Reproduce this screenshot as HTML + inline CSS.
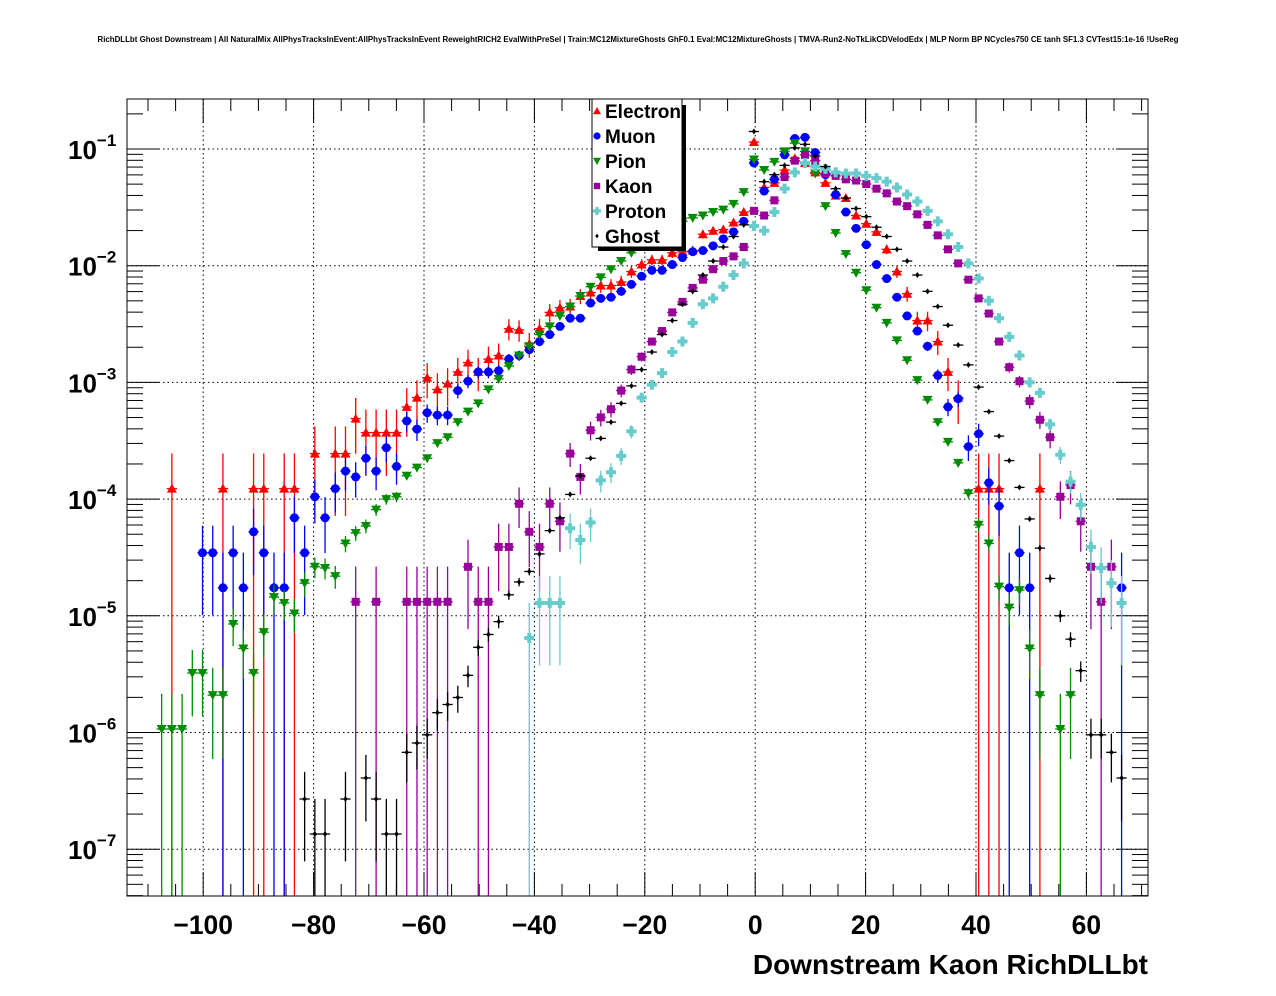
<!DOCTYPE html>
<html><head><meta charset="utf-8"><style>
body{margin:0;background:#fff}
svg{display:block;font-family:"Liberation Sans",sans-serif}
</style></head><body>
<svg id="c" width="1276" height="996" xmlns="http://www.w3.org/2000/svg">
<defs><clipPath id="pc"><rect x="127" y="99" width="1021" height="797"/></clipPath></defs>
<rect width="1276" height="996" fill="#fff"/>
<text x="638" y="42" text-anchor="middle" font-size="7.9" font-weight="bold">RichDLLbt Ghost Downstream | All NaturalMix AllPhysTracksInEvent:AllPhysTracksInEvent ReweightRICH2 EvalWithPreSel | Train:MC12MixtureGhosts GhF0.1 Eval:MC12MixtureGhosts | TMVA-Run2-NoTkLikCDVelodEdx | MLP Norm BP NCycles750 CE tanh SF1.3 CVTest15:1e-16 !UseReg</text>
<g id="grid"></g>
<g id="axes"></g>
<g id="marks" clip-path="url(#pc)"></g>
<rect x="127" y="99" width="1021" height="797" fill="none" stroke="#000" stroke-width="1"/>
<text x="1148" y="974" text-anchor="end" font-size="28" font-weight="bold">Downstream Kaon RichDLLbt</text>
<g id="legend">
<rect x="598" y="105" width="88" height="146" fill="#000"/>
<rect x="592" y="99" width="90" height="148" fill="#fff" stroke="#000" stroke-width="1"/>
</g>
</svg>
<script>
const xMin=-114, binW=1.85;
const seriesNames=["Electron","Muon","Pion","Kaon","Proton","Ghost"];
const eBins=[4,9,12,13,15,16,18,20,21,22,23,24,25,26,27,28,29,30,31,32,33,34,35,36,37,38,39,40,41,42,43,44,45,46,47,48,49,50,51,52,53,54,55,56,57,58,59,60,61,62,63,64,65,66,67,68,69,70,71,72,73,74,75,76,77,78,79,80,81,83,84,85,89];
const eLog10=[-3.91,-3.91,-3.91,-3.91,-3.91,-3.91,-3.61,-3.61,-3.61,-3.31,-3.43,-3.43,-3.43,-3.43,-3.21,-3.13,-2.96,-3.06,-3.01,-2.91,-2.83,-2.91,-2.80,-2.77,-2.54,-2.55,-2.67,-2.54,-2.40,-2.36,-2.35,-2.26,-2.23,-2.17,-2.17,-2.14,-2.05,-1.99,-1.95,-1.95,-1.89,-1.88,-1.87,-1.73,-1.70,-1.69,-1.63,-1.54,-0.94,-1.33,-1.29,-1.18,-1.08,-1.12,-1.20,-1.29,-1.40,-1.42,-1.57,-1.64,-1.71,-1.86,-2.05,-2.24,-2.47,-2.47,-2.65,-2.91,-3.13,-3.91,-3.91,-3.91,-3.91];
const mBins=[7,8,9,10,11,12,13,14,15,16,17,18,19,20,21,22,23,24,25,26,27,28,29,30,31,32,33,34,35,36,37,38,39,40,41,42,43,44,45,46,47,48,49,50,51,52,53,54,55,56,57,58,59,60,61,62,63,64,65,66,67,68,69,70,71,72,73,74,75,76,77,78,79,80,81,82,83,84,85,86,87,88,97];
const mLog10=[-4.46,-4.46,-4.76,-4.46,-4.76,-4.28,-4.46,-4.76,-4.76,-4.16,-4.46,-3.98,-4.16,-3.91,-3.76,-3.81,-3.65,-3.76,-3.56,-3.72,-3.33,-3.40,-3.26,-3.28,-3.28,-3.07,-2.99,-2.91,-2.91,-2.90,-2.80,-2.77,-2.72,-2.65,-2.59,-2.52,-2.45,-2.45,-2.32,-2.28,-2.27,-2.22,-2.16,-2.09,-2.04,-2.04,-1.99,-1.93,-1.88,-1.87,-1.83,-1.77,-1.71,-1.62,-1.12,-1.36,-1.26,-1.05,-0.91,-0.90,-1.03,-1.22,-1.39,-1.54,-1.68,-1.82,-1.99,-2.11,-2.27,-2.43,-2.56,-2.69,-2.94,-3.21,-3.14,-3.55,-3.44,-3.86,-4.06,-4.76,-4.46,-4.76,-4.76];
const pBins=[3,4,5,6,7,8,9,10,11,12,13,14,15,16,17,18,19,20,21,22,23,24,25,26,27,28,29,30,31,32,33,34,35,36,37,38,39,40,41,42,43,44,45,46,47,48,49,50,51,52,53,54,55,56,57,58,59,60,61,62,63,64,65,66,67,68,69,70,71,72,73,74,75,76,77,78,79,80,81,82,83,84,85,86,87,88,89,91,92];
const pLog10=[-5.97,-5.97,-5.97,-5.49,-5.49,-5.68,-5.68,-5.07,-5.28,-5.49,-5.14,-4.84,-4.89,-4.98,-4.72,-4.58,-4.59,-4.66,-4.38,-4.29,-4.23,-4.09,-4.00,-3.98,-3.80,-3.73,-3.65,-3.52,-3.47,-3.34,-3.25,-3.18,-3.06,-2.97,-2.86,-2.77,-2.69,-2.59,-2.52,-2.43,-2.35,-2.26,-2.18,-2.10,-2.03,-1.96,-1.89,-1.80,-1.75,-1.70,-1.64,-1.62,-1.59,-1.57,-1.54,-1.52,-1.47,-1.37,-1.09,-1.18,-1.11,-1.02,-0.95,-1.02,-1.21,-1.49,-1.72,-1.90,-2.06,-2.21,-2.36,-2.49,-2.64,-2.81,-2.98,-3.15,-3.34,-3.51,-3.69,-3.95,-4.22,-4.38,-4.75,-4.93,-4.78,-5.28,-5.68,-5.97,-5.68];
const kBins=[22,24,27,28,29,30,31,33,34,35,36,37,38,39,40,41,42,43,44,45,46,47,48,49,50,51,52,53,54,55,56,57,58,59,60,61,62,63,64,65,66,67,68,69,70,71,72,73,74,75,76,77,78,79,80,81,82,83,84,85,86,87,88,89,90,91,92,93,94,95,96];
const kLog10=[-4.88,-4.88,-4.88,-4.88,-4.88,-4.88,-4.88,-4.58,-4.88,-4.88,-4.41,-4.41,-4.04,-4.28,-4.41,-4.04,-4.19,-3.61,-3.81,-3.41,-3.30,-3.23,-3.07,-2.89,-2.78,-2.65,-2.56,-2.40,-2.31,-2.19,-2.12,-2.03,-1.96,-1.92,-1.84,-1.53,-1.57,-1.44,-1.24,-1.10,-1.05,-1.10,-1.21,-1.23,-1.26,-1.27,-1.30,-1.34,-1.38,-1.45,-1.49,-1.56,-1.65,-1.74,-1.86,-1.98,-2.12,-2.28,-2.41,-2.65,-2.87,-2.99,-3.16,-3.32,-3.47,-3.98,-3.88,-4.19,-4.58,-4.88,-4.58];
const prBins=[39,40,41,42,43,44,45,46,47,48,49,50,51,52,53,54,55,56,57,58,59,60,61,62,63,64,65,66,67,68,69,70,71,72,73,74,75,76,77,78,79,80,81,82,83,84,85,86,87,88,89,90,91,92,93,94,95,96,97];
const prLog10=[-5.19,-4.89,-4.89,-4.89,-4.25,-4.35,-4.20,-3.84,-3.77,-3.63,-3.42,-3.13,-3.02,-2.92,-2.74,-2.65,-2.49,-2.33,-2.28,-2.18,-2.08,-1.98,-1.66,-1.70,-1.54,-1.34,-1.20,-1.12,-1.15,-1.17,-1.20,-1.21,-1.21,-1.23,-1.25,-1.28,-1.33,-1.39,-1.45,-1.53,-1.62,-1.73,-1.84,-1.98,-2.11,-2.30,-2.45,-2.61,-2.77,-3.00,-3.09,-3.36,-3.62,-3.85,-4.05,-4.41,-4.59,-4.72,-4.89];
const gBins=[17,18,19,21,23,24,25,26,27,28,29,30,31,32,33,34,35,36,37,38,39,40,41,42,43,44,45,46,47,48,49,50,51,52,53,54,55,56,57,58,59,60,61,62,63,64,65,66,67,68,69,70,71,72,73,74,75,76,77,78,79,80,81,82,83,84,85,86,87,88,89,90,91,92,93,94,95,96,97];
const gLog10=[-6.57,-6.87,-6.87,-6.57,-6.39,-6.57,-6.87,-6.87,-6.17,-6.09,-6.02,-5.83,-5.76,-5.70,-5.51,-5.27,-5.16,-5.05,-4.82,-4.71,-4.62,-4.47,-4.27,-4.16,-3.96,-3.80,-3.65,-3.48,-3.34,-3.18,-3.03,-2.89,-2.74,-2.59,-2.47,-2.33,-2.22,-2.08,-1.96,-1.84,-1.75,-1.65,-0.85,-1.28,-1.22,-1.14,-0.99,-0.96,-1.06,-1.15,-1.34,-1.42,-1.51,-1.58,-1.67,-1.75,-1.86,-1.96,-2.08,-2.22,-2.35,-2.51,-2.68,-2.85,-3.04,-3.25,-3.46,-3.67,-3.90,-4.17,-4.42,-4.68,-5.00,-5.20,-5.47,-6.02,-6.02,-6.17,-6.39];
const xTicks=[-100,-80,-60,-40,-20,0,20,40,60];
const xTickLabels=["\u2212100","\u221280","\u221260","\u221240","\u221220","0","20","40","60"];
const yDecades=[-1,-2,-3,-4,-5,-6,-7];

const NS="http://www.w3.org/2000/svg";
const X0=127,X1=1148,Y0=99,Y1=896;
function xs(v){return 755.2+5.52*v;}
function ys(lg){return 149+(-1-lg)*116.7;}
function binCenter(k){return xMin+(k+0.5)*binW;}
function mk(tag,at,parent){const e=document.createElementNS(NS,tag);for(const k in at)e.setAttribute(k,at[k]);parent.appendChild(e);return e;}
const grid=document.getElementById('grid'),axes=document.getElementById('axes'),marks=document.getElementById('marks');

xTicks.forEach(t=>{const l=mk('line',{x1:xs(t),x2:xs(t),y1:Y0,y2:Y1,stroke:'#000','stroke-width':1,'stroke-dasharray':'1.5,3'},grid);

});
yDecades.forEach(d=>{const l=mk('line',{x1:X0,x2:X1,y1:ys(d),y2:ys(d),stroke:'#000','stroke-width':1,'stroke-dasharray':'1.5,3'},grid);

});

for(let v=-110;v<=70;v+=5){const maj=(v%20===0);const len=maj?24:12;const x=xs(v);
if(x<X0||x>X1)continue;
mk('line',{x1:x,x2:x,y1:Y1,y2:Y1-len,stroke:'#000'},axes);
mk('line',{x1:x,x2:x,y1:Y0,y2:Y0+len,stroke:'#000'},axes);}
xTicks.forEach((t,i)=>{const tx=mk('text',{x:xs(t),y:934,'text-anchor':'middle','font-size':26.5,'font-weight':'bold'},axes);tx.textContent=xTickLabels[i];

});
for(let d=-1;d>=-8;d--){for(let m=1;m<=9;m++){const lg=d+Math.log10(m);const y=ys(lg);if(y<Y0||y>Y1)continue;const len=m===1?32:16;
mk('line',{x1:X0,x2:X0+len,y1:y,y2:y,stroke:'#000'},axes);
mk('line',{x1:X1,x2:X1-len,y1:y,y2:y,stroke:'#000'},axes);}}
yDecades.forEach(d=>{const tx=mk('text',{x:68,y:ys(d)+10,'font-size':26,'font-weight':'bold'},axes);tx.textContent='10';


const sp=mk('tspan',{dy:-13,'font-size':17},tx);sp.textContent='\u2212'+(-d);});

const series=[
 {bins:eBins,lg:eLog10,color:'#ff0000',shape:'tri',unit:-3.91,name:'electron'},
 {bins:mBins,lg:mLog10,color:'#0000ff',shape:'circ',unit:-4.76,name:'muon'},
 {bins:pBins,lg:pLog10,color:'#008c00',shape:'tridown',unit:-5.97,name:'pion'},
 {bins:kBins,lg:kLog10,color:'#990099',shape:'sq',unit:-4.88,name:'kaon'},
 {bins:prBins,lg:prLog10,color:'#66cccc',shape:'cross',unit:-5.19,name:'proton'},
 {bins:gBins,lg:gLog10,color:'#000000',shape:'dia',unit:-6.87,name:'ghost'}];
function marker(shape,x,y,c,parent,s){
 s=s||1;let e;
 if(shape==='tri')e=mk('polygon',{points:`${x},${y-5*s} ${x-5*s},${y+4*s} ${x+5*s},${y+4*s}`,fill:c},parent);
 else if(shape==='tridown')e=mk('polygon',{points:`${x},${y+5*s} ${x-5*s},${y-4*s} ${x+5*s},${y-4*s}`,fill:c},parent);
 else if(shape==='circ')e=mk('circle',{cx:x,cy:y,r:4.5*s,fill:c},parent);
 else if(shape==='sq')e=mk('rect',{x:x-4*s,y:y-4*s,width:8*s,height:8*s,fill:c},parent);
 else if(shape==='cross')e=mk('path',{d:`M${x-5*s},${y-2*s}h${3*s}v${-3*s}h${4*s}v${3*s}h${3*s}v${4*s}h${-3*s}v${3*s}h${-4*s}v${-3*s}h${-3*s}z`,fill:c},parent);
 else e=mk('polygon',{points:`${x},${y-3*s} ${x+2.2*s},${y} ${x},${y+3*s} ${x-2.2*s},${y}`,fill:c},parent);
 return e;}
series.forEach(S=>{
 const g=mk('g',{},marks);
 
 
 S.bins.forEach((k,i)=>{
  const cx=binCenter(k),lg=S.lg[i];const x=xs(cx),y=ys(lg);
  const v=Math.pow(10,lg);const r=Math.sqrt(Math.pow(10,S.unit-lg));
  const hi=ys(Math.log10(v*(1+r)));const lo=(r>=0.999)?Y1+5:ys(Math.log10(v*(1-r)));
  mk('line',{x1:x,x2:x,y1:hi,y2:lo,stroke:S.color,'stroke-width':1.3},g);
  mk('line',{x1:xs(cx-binW/2),x2:xs(cx+binW/2),y1:y,y2:y,stroke:S.color,'stroke-width':1.3},g);
  const m=marker(S.shape,x,y,S.color,g);
  
  
 });
});
const leg=document.getElementById('legend');
series.forEach((S,i)=>{const y=111+25*i;
 marker(S.shape,597,y,S.color,leg,0.8);
 const t=mk('text',{x:605,y:y+7,'font-size':19,'font-weight':'bold'},leg);t.textContent=seriesNames[i];
 
 });
</script>
</body></html>
